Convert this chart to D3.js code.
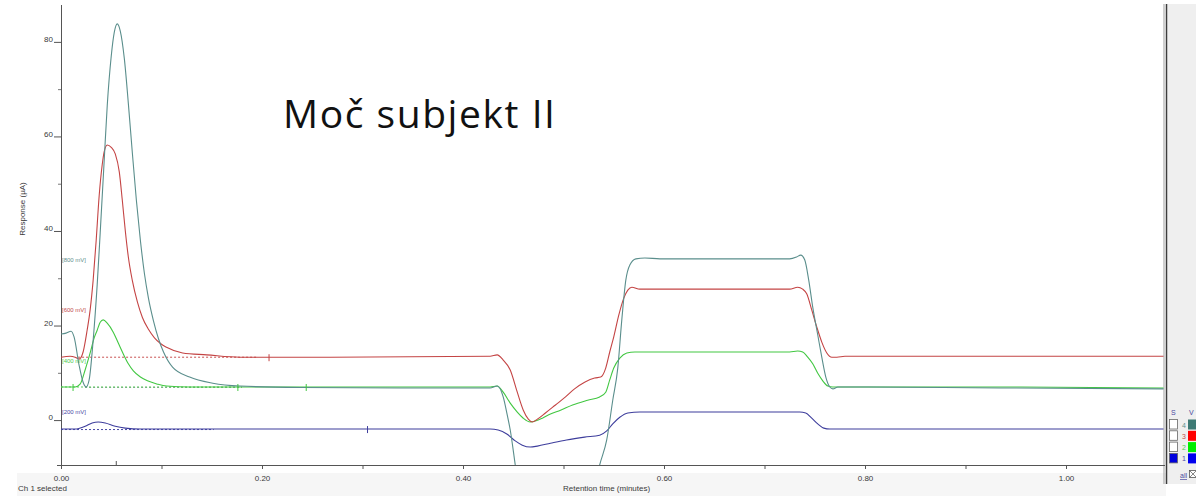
<!DOCTYPE html>
<html>
<head>
<meta charset="utf-8">
<script src="https://cdn.jsdelivr.net/npm/d3@7"></script>
<style>
  html, body { margin: 0; padding: 0; background: #fff; }
  svg { display: block; }
  .tick text { font-family: Arial, "Liberation Sans", sans-serif; font-size: 8px; fill: #3a3a3a; }
</style>
</head>
<body>
<svg id="chart" width="1196" height="496"></svg>
<script>
// Voltammetric detector traces, one per working potential: [retention time (min), response (µA)]
const trace800 = [
  [0.000, 18.2], [0.005, 18.4], [0.010, 18.8], [0.013, 17.6], [0.018, 11.6], [0.022, 8.0],
  [0.025, 7.0], [0.028, 8.5], [0.032, 16.9], [0.036, 28.6], [0.039, 39.6], [0.043, 55.0],
  [0.046, 66.5], [0.050, 77.0], [0.053, 82.0], [0.056, 83.8], [0.059, 82.3], [0.063, 76.5],
  [0.067, 67.0], [0.071, 56.5], [0.075, 46.5], [0.079, 38.0], [0.083, 31.0], [0.087, 25.8],
  [0.092, 21.0], [0.097, 17.2], [0.102, 14.4], [0.111, 11.2], [0.128, 9.1], [0.151, 7.8],
  [0.178, 7.2], [0.238, 6.9], [0.337, 6.8], [0.427, 6.8], [0.434, 7.2], [0.440, 4.9],
  [0.444, 1.1], [0.447, -2.1], [0.452, -9.5], [0.457, -16.9], [0.467, -20.0], [0.526, -20.0],
  [0.536, -9.5], [0.543, -4.2], [0.549, 4.2], [0.554, 11.0], [0.558, 21.2], [0.562, 29.6],
  [0.566, 32.8], [0.572, 34.1], [0.581, 34.3], [0.596, 34.1], [0.636, 34.1], [0.725, 34.1],
  [0.732, 34.5], [0.736, 34.9], [0.740, 33.9], [0.744, 29.6], [0.748, 23.9], [0.753, 18.0],
  [0.757, 13.3], [0.761, 9.1], [0.765, 7.0], [0.768, 6.6], [0.773, 7.0], [0.795, 7.0],
  [0.934, 6.8], [1.097, 6.6]
];
const trace600 = [
  [0.000, 13.3], [0.009, 13.5], [0.014, 13.3], [0.018, 12.9], [0.022, 14.4], [0.026, 19.0],
  [0.029, 23.3], [0.032, 29.6], [0.035, 38.0], [0.038, 47.5], [0.041, 54.0], [0.043, 56.8],
  [0.046, 58.2], [0.050, 57.7], [0.054, 56.3], [0.058, 52.5], [0.061, 46.5], [0.064, 40.0],
  [0.067, 34.5], [0.071, 29.5], [0.076, 25.0], [0.081, 21.7], [0.087, 19.2], [0.093, 17.4],
  [0.099, 16.2], [0.105, 15.4], [0.121, 14.2], [0.145, 13.8], [0.178, 13.3], [0.268, 13.3],
  [0.427, 13.5], [0.434, 13.8], [0.440, 12.7], [0.447, 10.6], [0.454, 5.9], [0.460, 2.1],
  [0.465, 0.2], [0.469, -0.4], [0.474, 0.2], [0.482, 1.5], [0.492, 3.2], [0.502, 4.9],
  [0.511, 6.6], [0.521, 8.0], [0.531, 8.9], [0.537, 9.1], [0.542, 11.0], [0.546, 14.4],
  [0.550, 17.6], [0.555, 22.2], [0.560, 25.8], [0.564, 27.5], [0.568, 28.1], [0.576, 27.7],
  [0.636, 27.7], [0.725, 27.7], [0.733, 28.1], [0.738, 27.7], [0.742, 26.7], [0.747, 23.3],
  [0.752, 19.7], [0.757, 16.5], [0.762, 14.2], [0.767, 13.3], [0.772, 13.3], [0.780, 13.5],
  [0.934, 13.5], [1.097, 13.5]
];
const trace400 = [
  [0.000, 7.0], [0.014, 7.0], [0.019, 7.6], [0.024, 10.6], [0.029, 14.2], [0.033, 17.4],
  [0.036, 19.0], [0.039, 20.7], [0.042, 21.2], [0.046, 20.5], [0.052, 18.6], [0.057, 16.3],
  [0.062, 14.0], [0.067, 11.9], [0.072, 10.4], [0.079, 9.1], [0.086, 8.3], [0.096, 7.6],
  [0.105, 7.2], [0.128, 7.0], [0.238, 7.0], [0.427, 7.0], [0.434, 7.2], [0.440, 5.9],
  [0.447, 3.6], [0.454, 1.7], [0.460, 0.4], [0.467, -0.4], [0.472, -0.2], [0.479, 0.4],
  [0.487, 1.3], [0.497, 2.1], [0.509, 3.2], [0.524, 4.2], [0.536, 4.9], [0.542, 5.9],
  [0.546, 8.5], [0.550, 11.0], [0.556, 13.1], [0.563, 14.2], [0.571, 14.4], [0.636, 14.4],
  [0.725, 14.4], [0.733, 14.6], [0.738, 14.4], [0.743, 13.3], [0.748, 11.9], [0.753, 9.9],
  [0.758, 8.3], [0.763, 7.2], [0.768, 7.0], [0.934, 7.0], [1.097, 6.8]
];
const trace200 = [
  [0.000, -1.9], [0.014, -1.9], [0.024, -1.3], [0.031, -0.6], [0.037, -0.4], [0.044, -0.6],
  [0.054, -1.3], [0.064, -1.7], [0.079, -1.9], [0.238, -1.9], [0.427, -1.9], [0.435, -2.1],
  [0.444, -3.0], [0.452, -4.4], [0.459, -5.3], [0.467, -5.7], [0.474, -5.5], [0.487, -4.9],
  [0.503, -4.2], [0.521, -3.6], [0.536, -3.2], [0.543, -2.3], [0.549, -0.8], [0.556, 0.6],
  [0.564, 1.5], [0.576, 1.7], [0.735, 1.7], [0.741, 1.5], [0.747, 0.4], [0.753, -0.8],
  [0.759, -1.7], [0.765, -1.9], [1.097, -1.9]
];

// Channel names, drawn bottom-up in the legend as 1..4
const channelNames = ["[800 mV]", "[600 mV]", "[400 mV]", "[200 mV]"];
const channelNumbers = [4, 3, 2, 1];
// Dashed integration baselines: [start time, end time, level]
const baselines800 = [0.024, 0.180, 6.9];
const baselines600 = [0.017, 0.195, 13.3];
const baselines400 = [0.000, 0.180, 7.0];
const baselines200 = [0.000, 0.152, -2.0];
// Peak-event markers on each trace: retention times
const marks600 = [0.207];
const marks400 = [0.012, 0.176, 0.244];
const marks200 = [0.305];

const xTickValues = [0, 0.1, 0.2, 0.3, 0.4, 0.5, 0.6, 0.7, 0.8, 0.9, 1.0];
const xTickLabels = ["0.00", "", "0.20", "", "0.40", "", "0.60", "", "0.80", "", "1.00"];
const yMajorTicks = [0, 20, 40, 60, 80];
const yMinorTicks = [10, 30, 50, 70];

const titleText = "Moč subjekt II";
const xTitle = "Retention time (minutes)";
const yTitle = "Response (µA)";
const statusText = "Ch 1 selected";

// ---- drawing ----
const svg = d3.select("#chart");
const plot = { left: 61, right: 1165, top: 5, bottom: 465 };

const x = d3.scaleLinear().domain([0, 1.0985]).range([plot.left, plot.right]);
const y = d3.scaleLinear().domain([-9.5, 87.8]).range([plot.bottom, plot.top]);

const lineColors = ["#5a8e8c", "#c44444", "#42c742", "#3d3d9c"];
const labelColors = ["#5f8f8d", "#c24a4a", "#4ccc4c", "#4a4aa6"];
const swatchColors = ["#3d7a74", "#ff0000", "#00ee00", "#0000ee"];

// status strip and right-hand panel
svg.append("rect").attr("x", 17).attr("y", 473).attr("width", 1149).attr("height", 23).attr("fill", "#f6f6f6");
svg.append("rect").attr("x", 1167).attr("y", 4).attr("width", 29).attr("height", 480).attr("fill", "#efefef");
svg.append("line").attr("x1", 1164).attr("x2", 1164).attr("y1", 4).attr("y2", 484).attr("stroke", "#b0b0b0").attr("stroke-width", 1.2);
svg.append("line").attr("x1", 1166.5).attr("x2", 1166.5).attr("y1", 4).attr("y2", 484).attr("stroke", "#3c3c3c").attr("stroke-width", 1.5);

svg.append("defs").append("clipPath").attr("id", "plotClip")
  .append("rect").attr("x", plot.left).attr("y", plot.top)
  .attr("width", plot.right - plot.left).attr("height", plot.bottom - plot.top);

// axes
const xAxis = d3.axisBottom(x).tickValues(xTickValues).tickSize(4).tickPadding(6)
  .tickFormat((d, i) => xTickLabels[i]);
const gx = svg.append("g").attr("transform", `translate(0,${plot.bottom})`).call(xAxis);
gx.select(".domain").remove();
gx.selectAll(".tick line").attr("stroke", "#555");
svg.append("line").attr("x1", 57).attr("x2", plot.right).attr("y1", plot.bottom + 0.5).attr("y2", plot.bottom + 0.5)
  .attr("stroke", "#555").attr("stroke-width", 1);

const yAxis = d3.axisLeft(y).tickValues(yMajorTicks).tickSize(7).tickPadding(1).tickFormat(d3.format("d"));
const gy = svg.append("g").attr("transform", `translate(${plot.left},0)`).call(yAxis);
gy.select(".domain").remove();
gy.selectAll(".tick line").attr("stroke", "#555");
gy.selectAll(".tick text").attr("dy", "-0.05em");
const gyMinor = svg.append("g").attr("transform", `translate(${plot.left},0)`)
  .call(d3.axisLeft(y).tickValues(yMinorTicks).tickSize(3).tickFormat(""));
gyMinor.select(".domain").remove();
gyMinor.selectAll(".tick line").attr("stroke", "#777");
svg.append("line").attr("x1", plot.left + 0.5).attr("x2", plot.left + 0.5).attr("y1", plot.top).attr("y2", plot.bottom + 1)
  .attr("stroke", "#555").attr("stroke-width", 1);

// injection mark on the time axis
svg.append("line").attr("x1", x(0.055)).attr("x2", x(0.055)).attr("y1", plot.bottom).attr("y2", plot.bottom - 4)
  .attr("stroke", "#555");

// traces
const traces = [trace800, trace600, trace400, trace200];
const line = d3.line().x(d => x(d[0])).y(d => y(d[1])).curve(d3.curveMonotoneX);
const gPlot = svg.append("g").attr("clip-path", "url(#plotClip)");

// dashed baselines
const baselineSets = [baselines800, baselines600, baselines400, baselines200];
const dashColors = ["#8a9a9a", "#c85050", "#5ccc5c", "#4a4aa6"];
baselineSets.forEach((b, i) => {
  gPlot.append("line")
    .attr("x1", x(b[0])).attr("x2", x(b[1]))
    .attr("y1", y(b[2])).attr("y2", y(b[2]))
    .attr("stroke", dashColors[i]).attr("stroke-width", 1).attr("stroke-dasharray", "2,2");
});

// draw back to front: 200 mV, 400 mV, 600 mV, 800 mV
[3, 2, 1, 0].forEach(i => {
  gPlot.append("path").datum(traces[i])
    .attr("d", line).attr("fill", "none")
    .attr("stroke", lineColors[i]).attr("stroke-width", 1.1)
    .attr("stroke-linejoin", "round");
});

// event markers (short vertical strokes on the trace)
function traceValueAt(trace, t) {
  const i = d3.bisector(d => d[0]).left(trace, t);
  if (i <= 0) return trace[0][1];
  if (i >= trace.length) return trace[trace.length - 1][1];
  const a = trace[i - 1], b = trace[i];
  return a[1] + (b[1] - a[1]) * (t - a[0]) / (b[0] - a[0]);
}
[[marks600, trace600, 1], [marks400, trace400, 2], [marks200, trace200, 3]].forEach(([marks, tr, ci]) => {
  marks.forEach(t => {
    const yy = y(traceValueAt(tr, t));
    gPlot.append("line").attr("x1", x(t)).attr("x2", x(t)).attr("y1", yy - 3).attr("y2", yy + 4)
      .attr("stroke", lineColors[ci]).attr("stroke-width", 1);
  });
});

// channel labels
const channelLabelLevels = [33.5, 22.8, 12.0, 1.3];
channelNames.forEach((name, i) => {
  svg.append("text").attr("x", plot.left + 1).attr("y", y(channelLabelLevels[i]))
    .attr("font-family", "Arial, 'Liberation Sans', sans-serif").attr("font-size", 6)
    .attr("fill", labelColors[i]).text(name);
});

// titles
svg.append("text").attr("x", 283).attr("y", 128)
  .attr("font-family", "'Open Sans', 'Noto Sans', sans-serif").attr("font-size", 39)
  .attr("textLength", 272).attr("lengthAdjust", "spacing")
  .attr("fill", "#111").text(titleText);
svg.append("text").attr("x", 563).attr("y", 491)
  .attr("font-family", "Arial, 'Liberation Sans', sans-serif").attr("font-size", 8)
  .attr("fill", "#3a3a3a").text(xTitle);
svg.append("text").attr("transform", "translate(25,209) rotate(-90)").attr("text-anchor", "middle")
  .attr("font-family", "Arial, 'Liberation Sans', sans-serif").attr("font-size", 8)
  .attr("fill", "#3a3a3a").text(yTitle);
svg.append("text").attr("x", 18).attr("y", 491)
  .attr("font-family", "Arial, 'Liberation Sans', sans-serif").attr("font-size", 8)
  .attr("fill", "#3a3a3a").text(statusText);

// channel selector panel
const panelFont = "Arial, 'Liberation Sans', sans-serif";
svg.append("text").attr("x", 1171).attr("y", 415).attr("font-family", panelFont).attr("font-size", 7)
  .attr("fill", "#4a4aa0").text("S");
svg.append("text").attr("x", 1189).attr("y", 415).attr("font-family", panelFont).attr("font-size", 7)
  .attr("fill", "#4a4aa0").text("V");
channelNumbers.forEach((n, i) => {
  const ry = 419 + i * 11.3;
  const selected = n === 1;
  svg.append("rect").attr("x", 1169.5).attr("y", ry + 0.5).attr("width", 8).attr("height", 9.5)
    .attr("fill", selected ? "#0000dd" : "#fff").attr("stroke", "#666").attr("stroke-width", 0.8);
  svg.append("text").attr("x", 1182).attr("y", ry + 8.5).attr("font-family", panelFont).attr("font-size", 7)
    .attr("fill", labelColors[i]).text(n);
  svg.append("rect").attr("x", 1188).attr("y", ry + 0.5).attr("width", 8).attr("height", 10)
    .attr("fill", swatchColors[i]);
});
svg.append("text").attr("x", 1180).attr("y", 478).attr("font-family", panelFont).attr("font-size", 7)
  .attr("fill", "#4a4aa0").attr("text-decoration", "underline").text("all");
svg.append("rect").attr("x", 1189.5).attr("y", 470.5).attr("width", 7).attr("height", 7)
  .attr("fill", "#fff").attr("stroke", "#555").attr("stroke-width", 0.8);
svg.append("path").attr("d", "M1189.5,470.5 L1196.5,477.5 M1196.5,470.5 L1189.5,477.5")
  .attr("stroke", "#555").attr("stroke-width", 0.7);
</script>
</body>
</html>
